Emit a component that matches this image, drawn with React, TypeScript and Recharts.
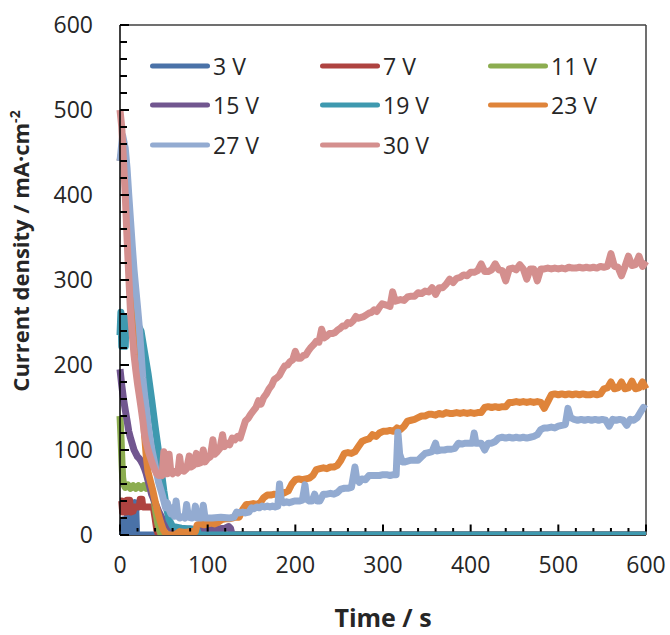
import React from 'react';
import { LineChart, Line, XAxis, YAxis, ReferenceLine, Legend } from 'recharts';

// anodizing current transients, [time s, current density mA/cm2]
const j3V: [number, number][] = [
  [0, 0], [3, 0], [4, 18], [5, 0], [8, 0], [9, 38], [10, 30], [11, 38], [12, 0], [15, 0],
  [16, 36], [17, 38], [18, 30], [19, 0], [600, 0],
];

const j7V: [number, number][] = [
  [0, 40], [2, 40], [3, 27], [7, 27], [8, 41], [11, 41], [12, 27], [15, 28], [16, 33], [22, 33],
  [23, 42], [25, 42], [26, 33], [38, 33], [40, 20], [42, 6], [44, 0], [600, 0],
];

const j11V: [number, number][] = [
  [0, 140], [1, 118], [2, 92], [3, 68], [4, 60], [6, 56], [9, 59], [12, 55], [15, 58], [18, 55],
  [21, 58], [24, 55], [27, 58], [30, 55], [33, 58], [35, 55], [37, 50], [39, 40], [41, 26],
  [43, 14], [45, 6], [47, 0], [600, 0],
];

const j15V: [number, number][] = [
  [0, 195], [2, 176], [4, 160], [6, 147], [8, 135], [10, 122], [12, 114], [14, 107], [16, 100],
  [18, 96], [20, 92], [22, 90], [24, 87], [26, 83], [28, 78], [30, 72], [32, 64], [34, 56],
  [36, 48], [40, 38], [44, 28], [48, 20], [52, 14], [56, 9], [60, 7], [70, 6], [80, 7], [90, 6],
  [100, 6], [110, 7], [120, 8], [124, 10], [126, 8], [128, 0], [600, 0],
];

const j19V: [number, number][] = [
  [0, 235], [1, 262], [2, 222], [3, 258], [4, 226], [5, 250], [6, 222], [7, 255], [9, 238],
  [12, 250], [16, 242], [20, 248], [24, 240], [28, 215], [32, 190], [36, 160], [40, 128],
  [44, 98], [47, 76], [50, 52], [53, 32], [56, 18], [60, 10], [70, 8], [80, 7], [88, 6],
  [90, 0], [600, 0],
];

const j23V: [number, number][] = [
  [0, 440], [3, 455], [6, 430], [8, 395], [10, 355], [12, 320], [14, 290], [16, 262], [18, 240],
  [20, 218], [22, 198], [24, 175], [26, 148], [28, 118], [30, 92], [32, 74], [34, 66], [37, 54],
  [40, 40], [43, 27], [46, 16], [49, 7], [52, 2], [54, 0], [60, 0], [64, 1], [68, 4], [74, 3],
  [80, 4], [86, 4], [88, 12], [92, 13], [96, 12], [100, 13], [104, 14], [108, 13], [112, 15],
  [116, 18], [120, 19], [124, 19], [128, 20], [132, 21], [136, 21], [140, 30], [144, 36],
  [148, 36], [152, 37], [156, 36], [160, 38], [164, 44], [168, 47], [172, 47], [176, 48],
  [180, 47], [184, 48], [188, 50], [192, 52], [196, 60], [200, 65], [204, 66], [208, 65],
  [212, 66], [216, 67], [220, 70], [224, 77], [228, 78], [232, 79], [236, 78], [240, 80],
  [244, 80], [248, 82], [252, 88], [256, 96], [260, 97], [264, 96], [268, 98], [272, 104],
  [276, 110], [280, 112], [284, 113], [288, 118], [292, 116], [296, 120], [300, 122], [304, 122],
  [308, 123], [312, 122], [316, 126], [320, 124], [324, 128], [328, 134], [332, 135], [336, 136],
  [340, 138], [344, 140], [348, 140], [352, 142], [356, 142], [360, 141], [364, 143], [368, 142],
  [372, 144], [376, 143], [380, 143], [384, 144], [388, 143], [392, 144], [396, 143], [400, 144],
  [404, 143], [408, 144], [412, 144], [416, 150], [420, 151], [424, 150], [428, 151], [432, 150],
  [436, 151], [440, 151], [444, 156], [448, 156], [452, 157], [456, 156], [460, 157], [464, 156],
  [468, 157], [472, 156], [476, 157], [480, 156], [484, 149], [488, 157], [492, 165], [496, 166],
  [500, 165], [504, 166], [508, 165], [512, 166], [516, 165], [520, 166], [524, 165], [528, 166],
  [532, 165], [536, 165], [540, 166], [544, 165], [548, 166], [552, 172], [556, 173], [560, 180],
  [564, 172], [568, 173], [572, 180], [576, 172], [580, 173], [584, 181], [588, 172], [592, 173],
  [596, 180], [600, 172],
];

const j27V: [number, number][] = [
  [0, 440], [3, 470], [6, 455], [8, 432], [10, 400], [12, 370], [14, 340], [16, 312], [18, 290],
  [20, 268], [22, 245], [24, 215], [26, 185], [28, 165], [30, 148], [32, 130], [34, 115],
  [36, 102], [38, 92], [40, 82], [42, 72], [44, 62], [46, 55], [48, 48], [50, 40], [52, 32],
  [54, 38], [56, 30], [58, 25], [60, 32], [62, 22], [64, 40], [66, 22], [68, 20], [72, 22],
  [74, 20], [76, 36], [78, 21], [82, 20], [84, 21], [86, 34], [88, 20], [93, 20], [95, 35],
  [97, 20], [105, 20], [115, 21], [125, 20], [130, 21], [133, 27], [136, 26], [140, 27],
  [143, 26], [147, 27], [150, 32], [153, 31], [156, 33], [159, 32], [162, 34], [165, 33],
  [168, 34], [171, 33], [174, 34], [177, 33], [180, 34], [182, 60], [184, 40], [187, 38],
  [190, 39], [193, 38], [196, 39], [199, 40], [202, 40], [205, 40], [208, 41], [211, 59],
  [213, 42], [216, 40], [219, 40], [222, 48], [225, 40], [228, 40], [232, 48], [236, 48],
  [240, 49], [244, 48], [248, 50], [252, 54], [256, 55], [260, 55], [264, 56], [268, 80],
  [270, 66], [273, 62], [276, 66], [280, 65], [284, 70], [288, 70], [292, 70], [296, 70],
  [300, 71], [304, 71], [308, 70], [312, 71], [315, 71], [317, 121], [319, 95], [322, 86],
  [325, 86], [328, 87], [332, 88], [336, 88], [340, 88], [344, 92], [348, 96], [352, 97],
  [356, 98], [360, 108], [362, 99], [366, 100], [370, 100], [374, 101], [378, 101], [382, 102],
  [386, 108], [390, 107], [394, 108], [398, 108], [402, 108], [404, 120], [406, 108], [412, 108],
  [416, 100], [420, 108], [424, 108], [428, 110], [432, 114], [436, 115], [440, 114], [444, 115],
  [448, 114], [452, 115], [456, 114], [460, 115], [464, 114], [468, 115], [472, 116], [476, 118],
  [480, 124], [484, 126], [488, 126], [492, 127], [496, 126], [500, 128], [504, 129], [508, 130],
  [511, 149], [514, 138], [518, 136], [522, 135], [526, 136], [530, 135], [534, 136], [538, 135],
  [542, 136], [546, 135], [550, 136], [554, 135], [558, 128], [562, 136], [566, 135], [570, 136],
  [574, 135], [578, 129], [582, 136], [586, 135], [590, 138], [594, 145], [597, 150], [600, 148],
];

const j30V: [number, number][] = [
  [0, 500], [2, 480], [4, 440], [6, 400], [8, 350], [10, 305], [12, 262], [14, 235], [16, 212],
  [18, 194], [20, 178], [22, 164], [24, 150], [26, 135], [28, 118], [30, 108], [32, 100],
  [34, 93], [36, 87], [38, 81], [40, 76], [42, 72], [44, 70], [46, 71], [48, 70], [50, 98],
  [52, 72], [54, 72], [56, 95], [58, 74], [60, 72], [63, 75], [66, 73], [68, 92], [70, 76],
  [73, 75], [76, 78], [79, 93], [81, 80], [84, 82], [87, 96], [89, 84], [92, 85], [95, 100],
  [97, 86], [100, 90], [103, 92], [106, 112], [108, 95], [111, 98], [114, 102], [117, 118],
  [119, 104], [122, 108], [125, 106], [128, 114], [131, 112], [134, 116], [137, 114], [140, 124],
  [143, 134], [146, 137], [149, 142], [152, 146], [155, 150], [158, 158], [161, 154], [164, 162],
  [167, 166], [170, 172], [173, 176], [176, 183], [179, 185], [182, 188], [185, 194], [188, 199],
  [191, 200], [194, 204], [197, 206], [200, 216], [203, 208], [206, 208], [209, 211], [212, 212],
  [215, 217], [218, 221], [221, 224], [224, 228], [227, 227], [230, 242], [233, 232], [236, 234],
  [239, 237], [242, 237], [245, 238], [248, 241], [251, 243], [254, 246], [257, 246], [260, 250],
  [263, 249], [266, 252], [269, 257], [272, 255], [275, 256], [278, 257], [281, 259], [284, 261],
  [287, 262], [290, 265], [293, 263], [296, 268], [299, 272], [302, 271], [305, 270], [308, 269],
  [311, 286], [314, 275], [317, 276], [320, 277], [324, 276], [328, 280], [332, 281], [336, 281],
  [340, 285], [344, 284], [348, 287], [352, 286], [356, 291], [360, 283], [364, 291], [368, 291],
  [372, 295], [376, 301], [380, 297], [384, 302], [388, 303], [392, 306], [396, 305], [400, 309],
  [404, 309], [408, 311], [412, 319], [416, 310], [420, 310], [424, 312], [428, 319], [432, 312],
  [436, 311], [440, 299], [444, 313], [448, 314], [452, 312], [456, 318], [460, 313], [464, 301],
  [468, 313], [472, 313], [476, 299], [480, 313], [484, 313], [488, 314], [492, 313], [496, 314],
  [500, 313], [504, 314], [508, 313], [512, 315], [516, 314], [520, 314], [524, 315], [528, 314],
  [532, 315], [536, 314], [540, 315], [544, 314], [548, 316], [552, 315], [556, 316], [560, 331],
  [564, 316], [568, 315], [572, 305], [576, 316], [580, 328], [584, 317], [588, 318], [592, 328],
  [596, 316], [600, 322],
];

const SERIES_NAMES = ['3 V', '7 V', '11 V', '15 V', '19 V', '23 V', '27 V', '30 V'];
const SERIES_COLORS = ['#4A72A8', '#AE4340', '#8CAD50', '#71568F', '#3E99AF', '#DF843A', '#93ABD1', '#D48F8E'];
const SERIES_DATA = [j3V, j7V, j11V, j15V, j19V, j23V, j27V, j30V];

const TIME_TICKS = [
  0, 20, 40, 60, 80, 100, 120, 140, 160, 180, 200, 220, 240, 260, 280, 300,
  320, 340, 360, 380, 400, 420, 440, 460, 480, 500, 520, 540, 560, 580, 600,
];
const CURRENT_TICKS = [
  0, 20, 40, 60, 80, 100, 120, 140, 160, 180, 200, 220, 240, 260, 280, 300,
  320, 340, 360, 380, 400, 420, 440, 460, 480, 500, 520, 540, 560, 580, 600,
];

const FONT = '"Open Sans", sans-serif';
const TEXT = '#262626';
const LINE_W = 7;
const Y_GAP = 27; // distance from label edge to the y axis line
const X_GAP = 38; // distance from x axis line to label baseline

// tick marks point into the plot; only every 100 gets a number
function CurrentTick(props: any) {
  const { x, y, payload } = props;
  const axisX = Number(x) + Y_GAP;
  const major = payload.value % 100 === 0;
  return (
    <g>
      <path d={`M${axisX},${y}h${major ? 9 : 7}`} stroke="#000" strokeWidth={2} fill="none" />
      {major && (
        <text x={x} y={y + 8} textAnchor="end" fontSize={23} fontFamily={FONT} fill={TEXT}>
          {payload.value}
        </text>
      )}
    </g>
  );
}

// the zero-current traces cover the axis line, so x ticks start above them
function TimeTick(props: any) {
  const { x, y, payload } = props;
  const top = Number(y) - X_GAP - LINE_W / 2;
  const major = payload.value % 100 === 0;
  return (
    <g>
      <path d={`M${x},${top}v${major ? -7 : -3.5}`} stroke="#000" strokeWidth={2} fill="none" />
      {major && (
        <text x={x} y={y} textAnchor="middle" fontSize={23} fontFamily={FONT} fill={TEXT}>
          {payload.value}
        </text>
      )}
    </g>
  );
}

function CurrentTitle(props: any) {
  const vb = props.viewBox || { x: 0, y: 25, width: 120, height: 510 };
  const cx = vb.x + 29;
  const cy = vb.y + vb.height / 2 - 29;
  return (
    <text
      x={cx}
      y={cy}
      transform={`rotate(-90, ${cx}, ${cy})`}
      textAnchor="middle"
      fontSize={22}
      fontWeight={700}
      fontFamily={FONT}
      fill={TEXT}
    >
      Current density / mA·cm
      <tspan dy={-9} fontSize={14}>-2</tspan>
    </text>
  );
}

function TimeTitle(props: any) {
  const vb = props.viewBox || { x: 120, y: 535, width: 526, height: 100 };
  return (
    <text
      x={vb.x + vb.width / 2}
      y={vb.y + 92}
      textAnchor="middle"
      fontSize={25}
      fontWeight={700}
      fontFamily={FONT}
      fill={TEXT}
    >
      Time / s
    </text>
  );
}

function LegendGrid() {
  return (
    <div
      style={{
        display: 'grid',
        gridTemplateColumns: '170px 168px 160px',
        gridAutoRows: '39.5px',
        fontFamily: FONT,
        color: TEXT,
      }}
    >
      {SERIES_NAMES.map((name, i) => (
        <div key={name} style={{ display: 'flex', alignItems: 'center' }}>
          <svg width={66} height={10} style={{ display: 'block' }}>
            <path d="M5.5,5H60.5" stroke={SERIES_COLORS[i]} strokeWidth={5} strokeLinecap="round" fill="none" />
          </svg>
          <span style={{ fontSize: 23, lineHeight: '30px', whiteSpace: 'nowrap' }}>{name}</span>
        </div>
      ))}
    </div>
  );
}

export default function App() {
  const series = SERIES_DATA.map((pts) => pts.map(([t, j]) => ({ t, j })));

  return (
    <div style={{ position: 'absolute', left: 0, top: 0, width: 670, height: 635, background: '#fff' }}>
      <LineChart width={670} height={635} margin={{ top: 25, right: 24, bottom: 0, left: 0 }}>
        <YAxis
          type="number"
          domain={[0, 600]}
          ticks={CURRENT_TICKS}
          interval={0}
          width={120}
          tickSize={0}
          tickMargin={Y_GAP}
          tickLine={false}
          tick={CurrentTick}
          axisLine={{ stroke: '#000', strokeWidth: 1.5 }}
          allowDataOverflow
          label={CurrentTitle}
        />
        <ReferenceLine y={600} stroke="#404040" strokeWidth={1.5} />
        <ReferenceLine x={600} stroke="#404040" strokeWidth={1.5} />
        <ReferenceLine y={0} stroke="#000" strokeWidth={1.5} />
        {series.map((data, i) => (
          <Line
            key={SERIES_NAMES[i]}
            data={data}
            dataKey="j"
            name={SERIES_NAMES[i]}
            type="linear"
            stroke={SERIES_COLORS[i]}
            strokeWidth={LINE_W}
            strokeLinejoin="round"
            dot={false}
            activeDot={false}
            isAnimationActive={false}
          />
        ))}
        <XAxis
          dataKey="t"
          type="number"
          domain={[0, 600]}
          ticks={TIME_TICKS}
          interval={0}
          height={100}
          tickSize={0}
          tickMargin={X_GAP}
          tickLine={false}
          tick={TimeTick}
          axisLine={false}
          allowDuplicatedCategory={false}
          label={TimeTitle}
        />
        <Legend
          layout="horizontal"
          verticalAlign="middle"
          content={LegendGrid}
          wrapperStyle={{ top: 46, left: 147, width: 500, height: 120 }}
        />
      </LineChart>
    </div>
  );
}
